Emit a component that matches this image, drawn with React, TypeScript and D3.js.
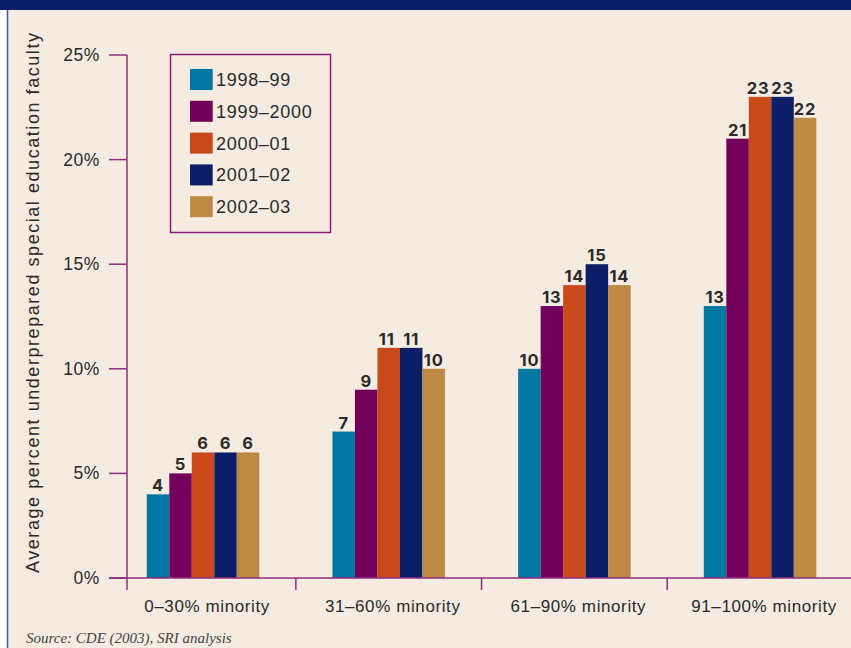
import React from "react";
import * as d3 from "d3";

const categories = ["0–30% minority", "31–60% minority", "61–90% minority", "91–100% minority"];
const seriesNames = ["1998–99", "1999–2000", "2000–01", "2001–02", "2002–03"];
const seriesColors = ["#0077A0", "#72005A", "#C8491A", "#0C1F66", "#BD8945"];
const values1998 = [4, 7, 10, 13];
const values1999 = [5, 9, 13, 21];
const values2000 = [6, 11, 14, 23];
const values2001 = [6, 11, 15, 23];
const values2002 = [6, 10, 14, 22];
const seriesValues = [values1998, values1999, values2000, values2001, values2002];
const yTicks = [0, 5, 10, 15, 20, 25];

const W = 851;
const H = 648;
const axisColor = "#8E2C80";
const textColor = "#2B2A29";

export default function App() {
  const y = d3.scaleLinear().domain([0, 25]).range([578, 55]);
  const x0 = d3.scaleBand<string>().domain(categories).range([110.2, 852.9]).padding(0);
  const groupW = 112.5;
  const x1 = d3.scaleBand<string>().domain(seriesNames).range([0, groupW]).padding(0);

  const sans = "'Liberation Sans', Arial, sans-serif";

  return (
    <svg
      width={W}
      height={H}
      style={{ position: "absolute", left: 0, top: 0, display: "block" }}
    >
      <rect x={0} y={0} width={W} height={H} fill="#ffffff" />
      <rect x={8} y={10} width={W - 8} height={H - 10} fill="#F5EBE0" />
      <rect x={0} y={0} width={W} height={10} fill="#0C1F66" />
      <line x1={7.5} x2={7.5} y1={10} y2={H} stroke="#3B55A0" strokeWidth={1.5} />

      {/* y axis title */}
      <text
        transform={`translate(39, 303) rotate(-90)`}
        textAnchor="middle"
        fontFamily={sans}
        fontSize={18}
        fill={textColor}
        textLength={540}
        lengthAdjust="spacing"
      >
        Average percent underprepared special education faculty
      </text>

      {/* bars */}
      {categories.map((c, ci) => {
        const gx = (x0(c) as number) + x0.bandwidth() / 2 - groupW / 2;
        return (
          <g key={c} transform={`translate(${gx},0)`}>
            {seriesNames.map((s, si) => {
              const v = seriesValues[si][ci];
              const bx = x1(s) as number;
              // nudge a label left when the next bar's label sits at the same height
              const next = si < seriesNames.length - 1 ? seriesValues[si + 1][ci] : null;
              const nudge = next !== null && next === v && v >= 10 ? -2 : 0;
              return (
                <g key={s}>
                  <rect
                    x={bx}
                    y={y(v)}
                    width={x1.bandwidth()}
                    height={y(0) - y(v)}
                    fill={seriesColors[si]}
                  />
                  <text
                    x={bx + x1.bandwidth() / 2 + nudge}
                    y={y(v) - 3}
                    textAnchor="middle"
                    fontFamily="Inter, 'Liberation Sans', sans-serif"
                    fontWeight="bold"
                    fontSize={16.5}
                    letterSpacing={0.8}
                    fill={textColor}
                  >
                    {v}
                  </text>
                </g>
              );
            })}
          </g>
        );
      })}

      {/* axes */}
      <line x1={127} x2={127} y1={y(25)} y2={590} stroke={axisColor} strokeWidth={1.5} />
      <line x1={109} x2={W} y1={y(0)} y2={y(0)} stroke={axisColor} strokeWidth={1.5} />
      {yTicks.map((t) => (
        <g key={t}>
          <line x1={109} x2={127} y1={y(t)} y2={y(t)} stroke={axisColor} strokeWidth={1.5} />
          <text
            x={100}
            y={y(t) + 6}
            textAnchor="end"
            fontFamily={sans}
            fontSize={17.5}
            letterSpacing={0.6}
            fill={textColor}
          >
            {t}%
          </text>
        </g>
      ))}
      {categories.slice(1).map((c) => (
        <line
          key={c}
          x1={x0(c) as number}
          x2={x0(c) as number}
          y1={y(0)}
          y2={590}
          stroke={axisColor}
          strokeWidth={1.5}
        />
      ))}
      {categories.map((c) => (
        <text
          key={c}
          x={(x0(c) as number) + x0.bandwidth() / 2 + 4}
          y={612}
          textAnchor="middle"
          fontFamily={sans}
          fontSize={17}
          letterSpacing={0.6}
          fill={textColor}
        >
          {c}
        </text>
      ))}

      {/* legend */}
      <rect x={170.5} y={54.5} width={160} height={178} fill="none" stroke="#8B1A7A" strokeWidth={1.5} />
      {seriesNames.map((s, i) => {
        const top = 69 + i * 31.8;
        return (
          <g key={s}>
            <rect x={190} y={top} width={22.7} height={21} fill={seriesColors[i]} />
            <text
              x={216}
              y={top + 17}
              fontFamily={sans}
              fontSize={18}
              letterSpacing={0.7}
              fill={textColor}
            >
              {s}
            </text>
          </g>
        );
      })}

      <text
        x={26}
        y={643}
        fontFamily="'Liberation Serif', 'Times New Roman', serif"
        fontStyle="italic"
        fontSize={15}
        fill="#444444"
      >
        Source: CDE (2003), SRI analysis
      </text>
    </svg>
  );
}
